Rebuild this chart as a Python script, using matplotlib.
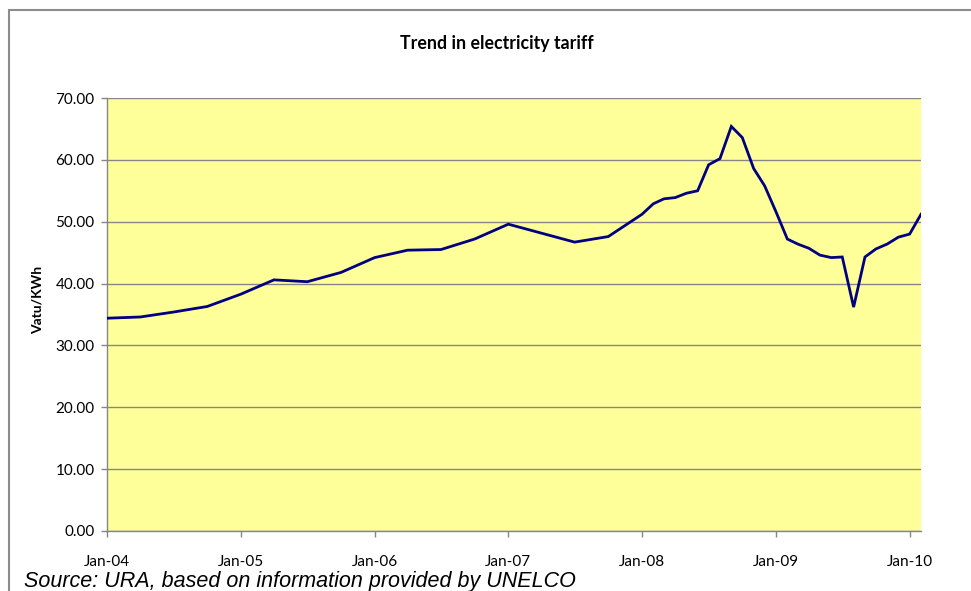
import matplotlib
matplotlib.use("Agg")
import matplotlib.pyplot as plt
import matplotlib.dates as mdates
import pandas as pd
from matplotlib.patches import Rectangle

# tariff readings (Vatu/KWh), quarterly to late 2007 then monthly
dates = [
    "2004-01", "2004-04", "2004-07", "2004-10",
    "2005-01", "2005-04", "2005-07", "2005-10",
    "2006-01", "2006-04", "2006-07", "2006-10",
    "2007-01", "2007-07", "2007-10",
    "2008-01", "2008-02", "2008-03", "2008-04", "2008-05", "2008-06",
    "2008-07", "2008-08", "2008-09", "2008-10", "2008-11", "2008-12",
    "2009-01", "2009-02", "2009-03", "2009-04", "2009-05", "2009-06",
    "2009-07", "2009-08", "2009-09", "2009-10", "2009-11", "2009-12",
    "2010-01", "2010-02",
]
tariff = [
    34.4, 34.6, 35.4, 36.3,
    38.3, 40.6, 40.3, 41.8,
    44.2, 45.4, 45.5, 47.2,
    49.6, 46.7, 47.6,
    51.2, 52.9, 53.7, 53.9, 54.6, 55.0,
    59.2, 60.2, 65.4, 63.6, 58.6, 55.8,
    51.6, 47.2, 46.4, 45.7, 44.6, 44.2,
    44.3, 36.2, 44.3, 45.6, 46.4, 47.5,
    48.0, 51.2,
]
yticks = [0, 10, 20, 30, 40, 50, 60, 70]

W, H = 971, 591
fig = plt.figure(figsize=(W / 100, H / 100), dpi=100)
fig.patch.set_facecolor("white")

# outer chart frame
fig.patches.append(Rectangle((8.5 / W, -0.05), 1.1, (H - 10) / H + 0.05,
                             transform=fig.transFigure, fill=False,
                             edgecolor="#8c8c8c", linewidth=1.5))

ax = fig.add_axes([107 / W, (H - 531) / H, (921 - 107) / W, (531 - 98) / H])
ax.set_facecolor("#FFFF99")

x = pd.to_datetime(dates)
ax.plot(x, tariff, color="#000080", linewidth=2.0, solid_joinstyle="miter", zorder=3)

ax.set_xlim(pd.Timestamp("2004-01-01"), pd.Timestamp("2010-02-01"))
ax.set_ylim(0, 70)
ax.set_yticks(yticks)
ax.yaxis.set_major_formatter(plt.FuncFormatter(lambda v, p: f"{v:.2f}"))
ax.xaxis.set_major_locator(mdates.YearLocator())
ax.xaxis.set_major_formatter(mdates.DateFormatter("%b-%y"))

ax.grid(axis="y", color="#868686", linewidth=1.0)
ax.set_axisbelow(True)
for s in ["top", "right"]:
    ax.spines[s].set_visible(False)
for s in ["left", "bottom"]:
    ax.spines[s].set_color("#868686")
    ax.spines[s].set_linewidth(1.0)
ax.tick_params(axis="both", color="#868686", length=4, width=1,
               labelsize=11, labelcolor="black")
ax.tick_params(axis="x", pad=13)
ax.tick_params(axis="y", pad=5)
for lab in ax.get_xticklabels() + ax.get_yticklabels():
    lab.set_fontfamily("Lato")

ax.set_ylabel("Vatu/KWh", fontfamily="Lato", fontweight="bold", fontsize=10)
ax.yaxis.set_label_coords((44 - 107) / (921 - 107), (531 - 300) / (531 - 98))

fig.text(497 / W, 1 - 43 / H, "Trend in electricity tariff", ha="center", va="center",
         fontfamily="Lato", fontweight="bold", fontsize=12.8)
fig.text(24 / W, 1 - 581 / H, "Source: URA, based on information provided by UNELCO",
         ha="left", va="center", fontfamily="Liberation Sans", fontstyle="italic", fontsize=15.5)

fig.savefig("out.png", dpi=100)
